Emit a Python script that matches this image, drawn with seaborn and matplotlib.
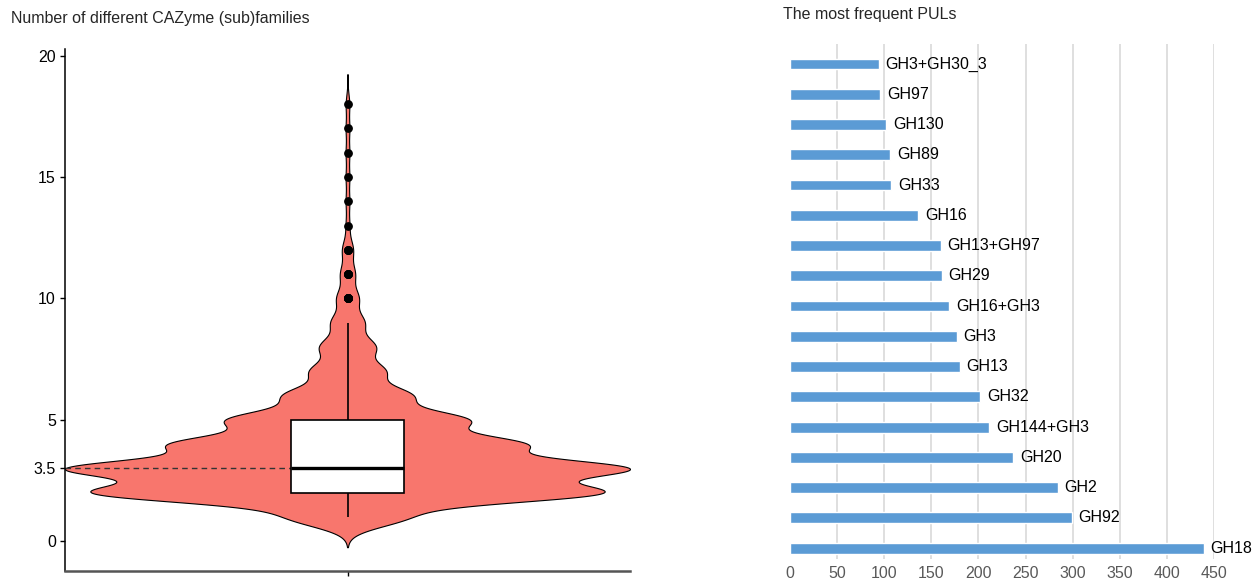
import numpy as np
import pandas as pd
import matplotlib
matplotlib.use("Agg")
import matplotlib.pyplot as plt
import seaborn as sns

# Number of genomes having a given number of distinct CAZyme (sub)families
n_families = [1, 2, 3, 4, 5, 6, 7, 8, 9, 10, 11, 12, 13, 14, 15, 16, 17, 18]
n_genomes = [31, 137, 150, 93, 64, 34, 20, 15, 9, 6, 4, 3, 1, 1, 1, 1, 1, 1]

# Reference line on the violin and the tick labels of the left axis
ref_level = 3
y_ticks = [0, 3, 5, 10, 15, 20]
y_tick_labels = ["0", "3.5", "5", "10", "15", "20"]

# Most frequent PULs (top to bottom) and how often each occurs
pul_names = ["GH3+GH30_3", "GH97", "GH130", "GH89", "GH33", "GH16", "GH13+GH97",
             "GH29", "GH16+GH3", "GH3", "GH13", "GH32", "GH144+GH3", "GH20",
             "GH2", "GH92", "GH18"]
pul_counts = [94, 96, 102, 106, 107, 136, 160, 161, 169, 177, 180, 202, 211,
              237, 284, 299, 439]
x_ticks = [0, 50, 100, 150, 200, 250, 300, 350, 400, 450]

sns.set_style("white")
plt.rcParams["font.family"] = ["Liberation Sans", "DejaVu Sans"]

fam = pd.DataFrame({"families": np.repeat(n_families, n_genomes)})
bw = 0.4 / fam["families"].std()

fig = plt.figure(figsize=(12.54, 5.79), dpi=100)

# ---- left: violin + box of families per genome ----
ax1 = fig.add_axes([65 / 1254, 1 - 571 / 579, 565 / 1254, 522 / 579])
ax1.plot([-0.5, 0], [ref_level, ref_level], color="#333333", lw=1.0,
         ls=(0, (4, 3)), zorder=2.5)
sns.violinplot(data=fam, y="families", ax=ax1, color="#F8766D", saturation=1,
               linecolor="black", linewidth=0.8, inner=None, cut=3.1,
               bw_method=bw, gridsize=1500, width=1.0, zorder=1)
sns.boxplot(data=fam, y="families", ax=ax1, width=0.2, color="white",
            saturation=1, linecolor="black", linewidth=1.2, showcaps=False,
            medianprops=dict(linewidth=2.4, color="black"),
            flierprops=dict(marker="o", markerfacecolor="black",
                            markeredgecolor="black", markersize=5.3),
            zorder=3)
ax1.set_xlim(-0.5, 0.5)
ax1.set_ylim(-1.22, 20.27)
ax1.set_xticks([0])
ax1.set_xticklabels([""])
ax1.set_yticks(y_ticks)
ax1.set_yticklabels(y_tick_labels)
ax1.set_xlabel("")
ax1.set_ylabel("")
ax1.tick_params(axis="y", length=3.5, width=1, labelsize=11.5, colors="black",
                pad=3, left=True)
ax1.tick_params(axis="x", length=3.5, width=1, colors="black", bottom=True)
for s in ["top", "right"]:
    ax1.spines[s].set_visible(False)
ax1.spines["left"].set_color("black")
ax1.spines["left"].set_linewidth(1.1)
ax1.spines["bottom"].set_color("#555555")
ax1.spines["bottom"].set_linewidth(1.8)
fig.text(11 / 1254, 1 - 18 / 579, "Number of different CAZyme (sub)families",
         fontsize=11.5, va="center", ha="left")

# ---- right: most frequent PULs ----
ax2 = fig.add_axes([790 / 1254, 1 - 559 / 579, 424 / 1254, 515 / 579])
sns.barplot(x=pul_counts, y=pul_names, orient="h", ax=ax2, color="#5B9BD5",
            saturation=1, width=0.36, zorder=3)
ax2.bar_label(ax2.containers[0], labels=pul_names, padding=5, fontsize=11.5,
              color="black")
ax2.set_xlim(0, 450)
ax2.set_ylim(16.36, -0.66)
ax2.set_xticks(x_ticks)
ax2.set_xticklabels([str(t) for t in x_ticks])
ax2.set_yticks([])
ax2.grid(axis="x", color="#D9D9D9", lw=1.2, zorder=0)
ax2.xaxis.get_gridlines()[0].set_visible(False)
ax2.set_axisbelow(True)
ax2.tick_params(axis="x", length=0, labelsize=11.5, colors="#595959", pad=5)
for s in ax2.spines.values():
    s.set_visible(False)
fig.text(783 / 1254, 1 - 15 / 579, "The most frequent PULs", fontsize=11.5,
         va="center", ha="left")

fig.savefig("out.png", dpi=100)
